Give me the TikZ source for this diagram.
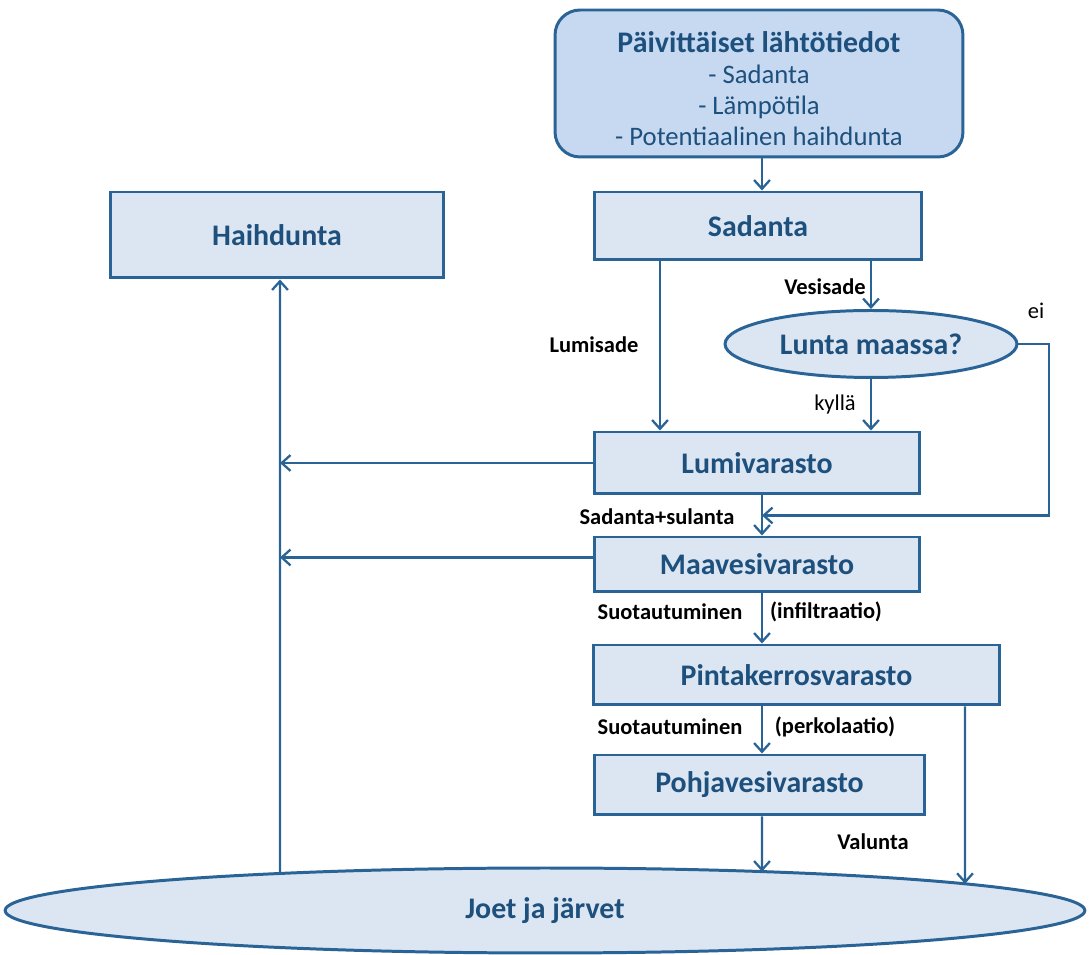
\documentclass[tikz,border=0pt]{standalone}
\usepackage{fontspec}
\setmainfont{Carlito}
\usetikzlibrary{arrows.meta, positioning, shapes.geometric, calc, intersections}

\definecolor{reuna}{RGB}{42,100,150}
\definecolor{teksti}{RGB}{30,80,125}
\definecolor{tausta}{RGB}{220,230,242}
\definecolor{ylatausta}{RGB}{198,217,241}

\begin{document}
\begin{tikzpicture}[
    x=0.02cm, y=-0.02cm,
    varasto/.style={rectangle, draw=reuna, line width=1.7pt, fill=tausta, text=teksti,
        font=\fontsize{17}{19}\selectfont\bfseries},
    kysymys/.style={ellipse, draw=reuna, line width=1.7pt, fill=tausta, text=teksti, inner sep=0pt,
        font=\fontsize{17}{19}\selectfont\bfseries},
    nuoli/.style={draw=reuna, line width=1.3pt, -{Straight Barb[length=5pt, width=9pt, line width=1.3pt]}},
    selite/.style={font=\fontsize{12.8}{15}\selectfont\bfseries, inner sep=1pt},
    vastaus/.style={font=\fontsize{12.8}{15}\selectfont, inner sep=1pt}
]
    \useasboundingbox (0,0) rectangle (1090,955);

    % lähtötiedot ja varastot
    \node[varasto, rounded corners=0.5cm, fill=ylatausta, minimum width=8.16cm, minimum height=2.94cm,
        align=center, font=\fontsize{17}{17.6}\selectfont\bfseries] (lahto) at (759,83.5)
        {\rule{0pt}{18pt}Päivittäiset lähtötiedot\\
         \fontsize{15.2}{17.6}\selectfont\mdseries - Sadanta\\
         \fontsize{15.2}{17.6}\selectfont\mdseries - Lämpötila\\
         \fontsize{15.2}{17.6}\selectfont\mdseries - Potentiaalinen haihdunta};
    \node[varasto, minimum width=6.56cm, minimum height=1.36cm] (sadanta) at (758,226) {Sadanta};
    \node[varasto, minimum width=6.68cm, minimum height=1.72cm] (haih) at (277,235) {Haihdunta};
    \node[kysymys, minimum width=5.84cm, minimum height=1.34cm] (lunta) at (871,344) {Lunta maassa?};
    \node[varasto, minimum width=6.52cm, minimum height=1.24cm] (lumi) at (757,463) {Lumivarasto};
    \node[varasto, minimum width=6.52cm, minimum height=1.1cm] (maa) at (757,564.5) {Maavesivarasto};
    \node[varasto, minimum width=8.14cm, minimum height=1.2cm] (pinta) at (796.5,675) {Pintakerrosvarasto};
    \node[varasto, minimum width=6.62cm, minimum height=1.2cm] (pohja) at (759.5,785) {Pohjavesivarasto};
    \node[kysymys, name path=joetreuna, minimum width=21.6cm, minimum height=1.7cm] (joet) at (545,910.5) {Joet ja järvet};

    % apupisteet
    \coordinate (pystyx) at (762,0);
    \coordinate (lumix) at (660,0);
    \coordinate (eix) at (1049,0);
    \coordinate (valx) at (965,0);
    \coordinate (vasenx) at (280,0);
    \coordinate (liitos) at ($(lumi.south -| pystyx)!0.5!(maa.north -| pystyx)$);

    % nuolet
    \draw[nuoli] (lahto.south -| pystyx) -- (sadanta.north -| pystyx);
    \draw[nuoli] (sadanta.south -| lumix) -- (lumi.north -| lumix);
    \draw[nuoli] (sadanta.south -| lunta.north) -- (lunta.north);
    \draw[nuoli] (lunta.south) -- (lumi.north -| lunta.south);
    \draw[nuoli] (lunta.east) -- (lunta.east -| eix) |- (liitos);
    \draw[nuoli] (lumi.south -| pystyx) -- (maa.north -| pystyx);
    \draw[nuoli] (lumi.west) -- (lumi.west -| vasenx);
    \draw[nuoli] ([yshift=4pt]maa.west) -- ([yshift=4pt]maa.west -| vasenx);
    \draw[nuoli] (maa.south -| pystyx) -- (pinta.north -| pystyx);
    \draw[nuoli] (pinta.south -| pystyx) -- (pohja.north -| pystyx);

    \path[name path=pysty1] (haih.south -| vasenx) -- ++(0,700);
    \path[name path=pysty2] (pohja.south -| pystyx) -- ++(0,200);
    \path[name path=pysty3] (pinta.south -| valx) -- ++(0,300);
    \draw[nuoli, name intersections={of=pysty1 and joetreuna, by={j1}}] (j1) -- (haih.south -| vasenx);
    \draw[nuoli, name intersections={of=pysty2 and joetreuna, by={j2}}] (pohja.south -| pystyx) -- (j2);
    \draw[nuoli, name intersections={of=pysty3 and joetreuna, by={j3}}] (pinta.south -| valx) -- (j3);

    % selitteet
    \node[selite] (lumisade) at (594,345) {Lumisade};
    \node[selite] (vesisade) at (825,287) {Vesisade};
    \node[vastaus] (kylla) at (835,405) {kyllä};
    \node[vastaus] (ei) at (1036,311) {ei};
    \node[selite] (sulanta) at (657,517) {Sadanta+sulanta};
    \node[selite] (suot1) at (670,612) {Suotautuminen};
    \node[selite] (infil) at (826,612) {(infiltraatio)};
    \node[selite] (suot2) at (670,727) {Suotautuminen};
    \node[selite] (perko) at (835,727) {(perkolaatio)};
    \node[selite] (valunta) at (873,842) {Valunta};
\end{tikzpicture}
\end{document}
